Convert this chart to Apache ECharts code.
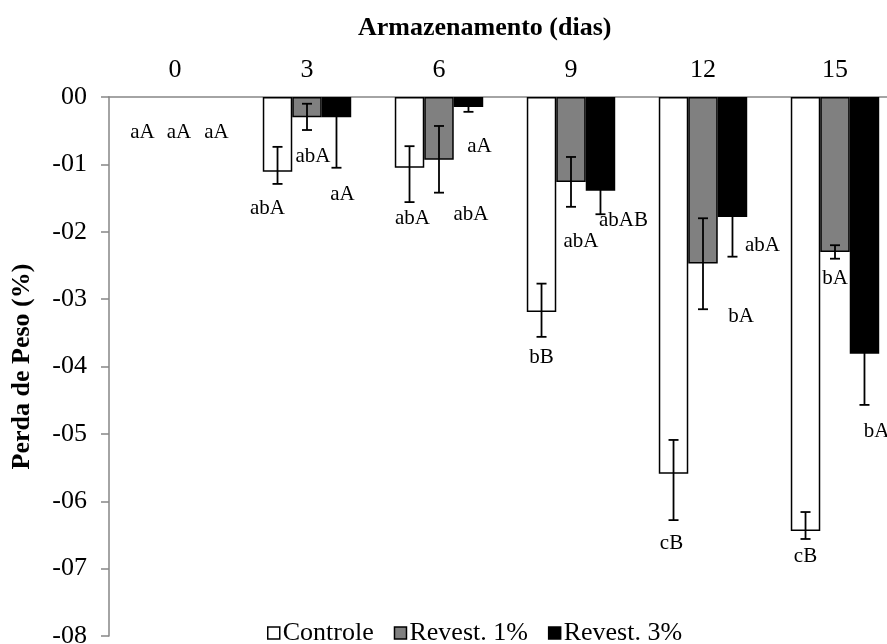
<!DOCTYPE html>
<html>
<head>
<meta charset="utf-8">
<script src="https://cdn.jsdelivr.net/npm/echarts@6/dist/echarts.min.js"></script>
<style>
  html, body { margin: 0; padding: 0; background: #fff; }
  #chart { width: 887px; height: 644px; }
</style>
</head>
<body>
<div id="chart"></div>
<script>
// storage days (top axis) and y tick labels
const days = ['0', '3', '6', '9', '12', '15'];
const yTickLabels = ['00', '-01', '-02', '-03', '-04', '-05', '-06', '-07', '-08'];
const seriesNames = ['Controle', 'Revest. 1%', 'Revest. 3%'];

// weight loss (%)
const controle = [0, -1.11, -1.05, -3.19, -5.59, -6.44];
const revest1 = [0, -0.30, -0.93, -1.26, -2.47, -2.30];
const revest3 = [0, -0.30, -0.15, -1.39, -1.78, -3.81];

// error bar ends (upper / lower)
const controleErrHi = [null, -0.74, -0.73, -2.77, -5.09, -6.16];
const controleErrLo = [null, -1.29, -1.56, -3.56, -6.28, -6.56];
const revest1ErrHi = [null, -0.10, -0.43, -0.89, -1.80, -2.20];
const revest1ErrLo = [null, -0.49, -1.42, -1.63, -3.15, -2.40];
const revest3ErrHi = [null, -0.05, -0.05, -1.00, -1.20, -3.10];
const revest3ErrLo = [null, -1.05, -0.22, -1.74, -2.37, -4.57];

// significance letters and where they sit (value on the y axis)
const controleLetters = ['aA', 'abA', 'abA', 'bB', 'cB', 'cB'];
const revest1Letters = ['aA', 'abA', 'abA', 'abA', 'bA', 'bA'];
const revest3Letters = ['aA', 'aA', 'aA', 'abAB', 'abA', 'bA'];
const controleLetterY = [-0.52, -1.65, -1.80, -3.87, -6.62, -6.82];
const revest1LetterY = [-0.52, -0.89, -1.75, -2.15, -3.26, -2.70];
const revest3LetterY = [-0.52, -1.45, -0.73, -1.84, -2.20, -4.97];

// small horizontal nudges of the letters (px), as placed by hand in the original
const letterShift = [
  [-3, -10, 3, 0, -2, 0],
  [4, 6, 32, 10, 38, 0],
  [12, 6, 11, 23, 30, 12]
];

const FONT = 'Liberation Serif';
const CAT_GAP = 0.33;

const errHi = [controleErrHi, revest1ErrHi, revest3ErrHi];
const errLo = [controleErrLo, revest1ErrLo, revest3ErrLo];
const letters = [controleLetters, revest1Letters, revest3Letters];
const letterY = [controleLetterY, revest1LetterY, revest3LetterY];

const errData = [];
const letterData = [];
for (let s = 0; s < 3; s++) {
  for (let i = 0; i < days.length; i++) {
    if (errHi[s][i] != null) errData.push([i, s, errHi[s][i], errLo[s][i]]);
    letterData.push([i, s, letterY[s][i], letters[s][i]]);
  }
}

function barWidth(api) {
  return api.size([1, 0])[0] * (1 - CAT_GAP) / 3;
}

// zero bars get no outline (otherwise a black line shows on the axis)
function barData(arr) {
  return arr.map((v) => (v === 0 ? { value: v, itemStyle: { borderWidth: 0 } } : v));
}

const chart = echarts.init(document.getElementById('chart'));

const barStyles = [
  { color: '#ffffff', borderColor: '#000', borderWidth: 1.5 },
  { color: '#808080', borderColor: '#000', borderWidth: 1.5 },
  { color: '#000000', borderColor: '#000', borderWidth: 1.5 }
];

const option = {
  animation: false,
  backgroundColor: '#fff',
  title: {
    text: 'Armazenamento (dias)',
    left: 353,
    top: 10,
    textStyle: { fontFamily: FONT, fontSize: 26, fontWeight: 'bold', color: '#000' }
  },
  legend: {
    data: seriesNames.map((n, i) => ({ name: n, itemStyle: barStyles[i] })),
    left: 262,
    top: 615,
    itemWidth: 12,
    itemHeight: 12,
    itemGap: 20,
    icon: 'rect',
    textStyle: { fontFamily: FONT, fontSize: 26, color: '#000', padding: [0, 0, 0, -2] }
  },
  // the original plot runs past the right edge of the picture
  grid: { left: 109, top: 97, width: 792, height: 539, outerBoundsMode: 'none' },
  xAxis: {
    type: 'category',
    position: 'top',
    data: days,
    axisLine: { lineStyle: { color: '#868686', width: 1.5 } },
    axisTick: { show: false },
    axisLabel: { fontFamily: FONT, fontSize: 26, color: '#000', margin: 14 }
  },
  yAxis: {
    type: 'value',
    min: -8,
    max: 0,
    interval: 1,
    name: 'Perda de Peso (%)',
    nameLocation: 'middle',
    nameRotate: 90,
    nameGap: 74,
    nameTextStyle: { fontFamily: FONT, fontSize: 26, fontWeight: 'bold', color: '#000' },
    axisLine: { show: true, lineStyle: { color: '#868686', width: 1.5 } },
    axisTick: { show: true, length: 8, lineStyle: { color: '#868686', width: 1.5 } },
    splitLine: { show: false },
    axisLabel: {
      fontFamily: FONT, fontSize: 26, color: '#000', margin: 22,
      formatter: (v) => yTickLabels[Math.round(-v)]
    }
  },
  series: [
    { name: seriesNames[0], type: 'bar', data: barData(controle), itemStyle: barStyles[0] },
    { name: seriesNames[1], type: 'bar', data: barData(revest1), itemStyle: barStyles[1] },
    { name: seriesNames[2], type: 'bar', data: barData(revest3), itemStyle: barStyles[2] },
    {
      type: 'custom',
      z: 5,
      data: errData,
      encode: { x: 0, y: 2 },
      renderItem: (params, api) => {
        const bw = barWidth(api);
        const off = (api.value(1) - 1) * bw;
        const top = api.coord([api.value(0), api.value(2)]);
        const bot = api.coord([api.value(0), api.value(3)]);
        const x = top[0] + off;
        const cap = 5;
        const st = { stroke: '#000', lineWidth: 1.8 };
        return {
          type: 'group',
          children: [
            { type: 'line', shape: { x1: x, y1: top[1], x2: x, y2: bot[1] }, style: st },
            { type: 'line', shape: { x1: x - cap, y1: top[1], x2: x + cap, y2: top[1] }, style: st },
            { type: 'line', shape: { x1: x - cap, y1: bot[1], x2: x + cap, y2: bot[1] }, style: st }
          ]
        };
      }
    },
    {
      type: 'custom',
      z: 6,
      data: letterData,
      encode: { x: 0, y: 2 },
      renderItem: (params, api) => {
        const bw = barWidth(api);
        const s = api.value(1);
        const i = api.value(0);
        const p = api.coord([i, api.value(2)]);
        return {
          type: 'text',
          x: p[0] + (s - 1) * bw + letterShift[s][i],
          y: p[1],
          style: {
            text: letterData[params.dataIndex][3],
            fontFamily: FONT,
            fontSize: 21,
            fill: '#000',
            align: 'center',
            verticalAlign: 'middle'
          }
        };
      }
    }
  ]
};
option.series.forEach((s) => {
  if (s.type === 'bar') { s.barGap = '0%'; s.barCategoryGap = (CAT_GAP * 100) + '%'; }
});

chart.setOption(option);
</script>
</body>
</html>
